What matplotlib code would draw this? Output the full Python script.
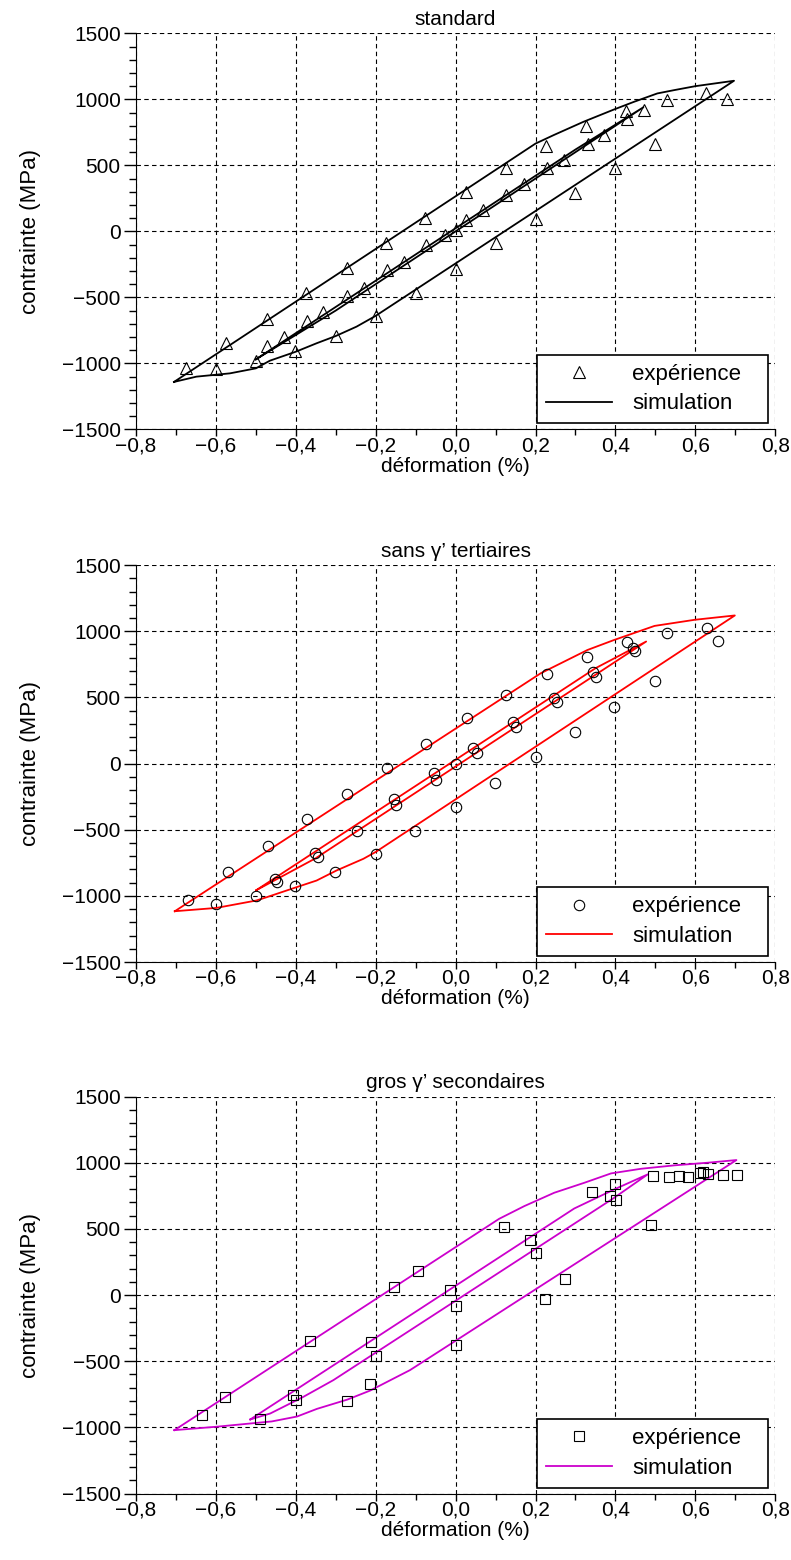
import matplotlib
matplotlib.use('Agg')
import matplotlib.pyplot as plt
from matplotlib.ticker import MultipleLocator, FuncFormatter

plt.rcParams['font.family'] = ['Liberation Sans', 'DejaVu Sans']
plt.rcParams['font.size'] = 15

# --- standard ---
std_exp_eps = [-0.676, -0.601, -0.575, -0.500, -0.473, -0.472, -0.430, -0.402, -0.375, -0.372,
               -0.332, -0.300, -0.273, -0.273, -0.230, -0.200, -0.175, -0.173, -0.129, -0.100,
               -0.077, -0.073, -0.027, 0.0, 0.0, 0.025, 0.025, 0.068, 0.100, 0.127,
               0.125, 0.171, 0.202, 0.227, 0.228, 0.271, 0.300, 0.327, 0.332, 0.372,
               0.400, 0.426, 0.430, 0.472, 0.499, 0.528, 0.626, 0.679]
std_exp_sig = [-1038, -1045, -848, -982, -662, -869, -798, -904, -465, -677,
               -609, -790, -275, -487, -427, -641, -86, -293, -230, -470,
               98, -104, -30, 10, -282, 295, 86, 162, -91, 275,
               477, 359, 93, 646, 477, 540, 288, 798, 659, 727,
               477, 912, 848, 919, 659, 992, 1045, 1000]
std_loop_eps = [-0.705, 0.20, 0.246, 0.32, 0.397, 0.447, 0.505, 0.547, 0.60, 0.697,
                -0.20, -0.248, -0.30, -0.348, -0.40, -0.465, -0.50, -0.565, -0.649, -0.705]
std_loop_sig = [-1141, 665, 730, 830, 924, 982, 1045, 1070, 1100, 1141,
                -640, -722, -793, -848, -912, -980, -1038, -1076, -1101, -1141]
std_inner_eps = [-0.50, 0.30, 0.47, -0.30, -0.50]
std_inner_sig = [-970, 620, 940, -600, -970]

# --- sans gamma' tertiaires ---
st_exp_eps = [-0.670, -0.600, -0.571, -0.500, -0.470, -0.451, -0.446, -0.401, -0.372, -0.352,
              -0.344, -0.301, -0.272, -0.247, -0.200, -0.173, -0.154, -0.149, -0.102, -0.075,
              -0.055, -0.048, 0.0, 0.0, 0.028, 0.043, 0.053, 0.099, 0.127, 0.144,
              0.152, 0.201, 0.228, 0.247, 0.253, 0.300, 0.329, 0.343, 0.351, 0.397,
              0.428, 0.445, 0.450, 0.499, 0.529, 0.629, 0.656]
st_exp_sig = [-1028, -1058, -819, -1003, -620, -872, -895, -927, -421, -673,
              -706, -819, -227, -507, -680, -30, -270, -315, -512, 151,
              -71, -121, -5, -328, 341, 119, 76, -144, 515, 311,
              273, 51, 674, 492, 467, 235, 808, 689, 657, 429,
              917, 871, 851, 624, 985, 1023, 927]
st_loop_eps = [-0.703, 0.213, 0.33, 0.397, 0.498, 0.598, 0.699,
               -0.20, -0.231, -0.298, -0.348, -0.398, -0.473, -0.499, -0.599, -0.703]
st_loop_sig = [-1116, 682, 858, 934, 1040, 1086, 1119,
               -668, -720, -808, -884, -934, -1010, -1035, -1091, -1116]
st_inner_eps = [-0.499, 0.35, 0.477, -0.35, -0.499]
st_inner_sig = [-957, 720, 922, -715, -957]

# --- gros gamma' secondaires ---
gs_exp_eps = [-0.634, -0.577, -0.489, -0.407, -0.400, -0.365, -0.271, -0.215, -0.212, -0.200,
              -0.153, -0.094, -0.014, 0.0, 0.0, 0.121, 0.187, 0.202, 0.224, 0.275,
              0.342, 0.387, 0.400, 0.402, 0.490, 0.493, 0.533, 0.559, 0.582, 0.612,
              0.620, 0.632, 0.669, 0.704]
gs_exp_sig = [-907, -774, -940, -756, -796, -348, -801, -675, -355, -459,
              63, 181, 38, -83, -378, 515, 419, 318, -30, 124,
              780, 747, 836, 715, 528, 899, 894, 899, 894, 919,
              932, 917, 909, 909]
gs_loop_eps = [-0.704, 0.109, 0.172, 0.247, 0.322, 0.389, 0.464, 0.548, 0.632, 0.703,
               -0.114, -0.214, -0.271, -0.347, -0.397, -0.46, -0.598, -0.704]
gs_loop_sig = [-1021, 576, 672, 773, 848, 919, 954, 980, 1000, 1020,
               -567, -722, -790, -860, -918, -955, -995, -1021]
gs_inner_eps = [-0.514, 0.297, 0.397, 0.481, 0.397, -0.306, -0.381, -0.464, -0.514]
gs_inner_sig = [-940, 654, 798, 912, 735, -643, -769, -895, -940]


def fmt_x(v, pos):
    s = '%.1f' % v
    if s == '-0.0':
        s = '0.0'
    return s.replace('.', ',').replace('-', '\u2212')


def fmt_y(v, pos):
    return ('%d' % round(v)).replace('-', '\u2212')


def draw_panel(ax, title, exp_eps, exp_sig, marker, ms, loop_eps, loop_sig,
               inner_eps, inner_sig, color):
    ax.plot(loop_eps, loop_sig, color=color, lw=1.3, zorder=3)
    ax.plot(inner_eps, inner_sig, color=color, lw=1.3, zorder=3)
    ax.plot(exp_eps, exp_sig, linestyle='none', marker=marker, ms=ms,
            mfc='none', mec='black', mew=0.8, zorder=4, label='expérience')
    ax.plot([], [], color=color, lw=1.3, label='simulation')

    ax.set_xlim(-0.8, 0.8)
    ax.set_ylim(-1500, 1500)
    ax.xaxis.set_major_locator(MultipleLocator(0.2))
    ax.xaxis.set_minor_locator(MultipleLocator(0.1))
    ax.yaxis.set_major_locator(MultipleLocator(500))
    ax.yaxis.set_minor_locator(MultipleLocator(100))
    ax.xaxis.set_major_formatter(FuncFormatter(fmt_x))
    ax.yaxis.set_major_formatter(FuncFormatter(fmt_y))
    ax.tick_params(axis='y', which='major', direction='out', length=9, width=1, pad=2)
    ax.tick_params(axis='y', which='minor', direction='out', length=5, width=1)
    ax.tick_params(axis='x', which='major', direction='out', length=5, width=1, pad=0)
    ax.tick_params(axis='x', which='minor', direction='out', length=4, width=1)
    ax.tick_params(labelsize=15)

    ax.spines['top'].set_visible(False)
    ax.spines['right'].set_visible(False)
    ax.grid(True, which='major', color='black', linestyle=(0, (4, 3)), lw=0.8)
    ax.set_axisbelow(True)

    ax.set_title(title, fontsize=15, pad=6)
    ax.set_xlabel('déformation (%)', fontsize=15, labelpad=1)
    ax.set_ylabel('contrainte (MPa)', fontsize=16, labelpad=15)

    leg = ax.legend(loc='lower right', bbox_to_anchor=(0.627, 0.015, 0.361, 0.3),
                    mode='expand', borderaxespad=0, numpoints=1, fancybox=False,
                    framealpha=1, edgecolor='black', fontsize=16, handlelength=3.0,
                    handletextpad=0.9, borderpad=0.4, labelspacing=0.4)
    leg.get_frame().set_linewidth(1.2)


fig = plt.figure(figsize=(7.91, 15.6), dpi=100)
ax1 = fig.add_axes([0.172, 0.7248, 0.808, 0.2538])
ax2 = fig.add_axes([0.172, 0.3833, 0.808, 0.2545])
ax3 = fig.add_axes([0.172, 0.0426, 0.808, 0.2545])

draw_panel(ax1, 'standard', std_exp_eps, std_exp_sig, '^', 9,
           std_loop_eps, std_loop_sig, std_inner_eps, std_inner_sig, 'black')
draw_panel(ax2, 'sans γ’ tertiaires', st_exp_eps, st_exp_sig, 'o', 7.5,
           st_loop_eps, st_loop_sig, st_inner_eps, st_inner_sig, '#ff0000')
draw_panel(ax3, 'gros γ’ secondaires', gs_exp_eps, gs_exp_sig, 's', 7.5,
           gs_loop_eps, gs_loop_sig, gs_inner_eps, gs_inner_sig, '#cc00cc')

fig.savefig('out.png', dpi=100)
